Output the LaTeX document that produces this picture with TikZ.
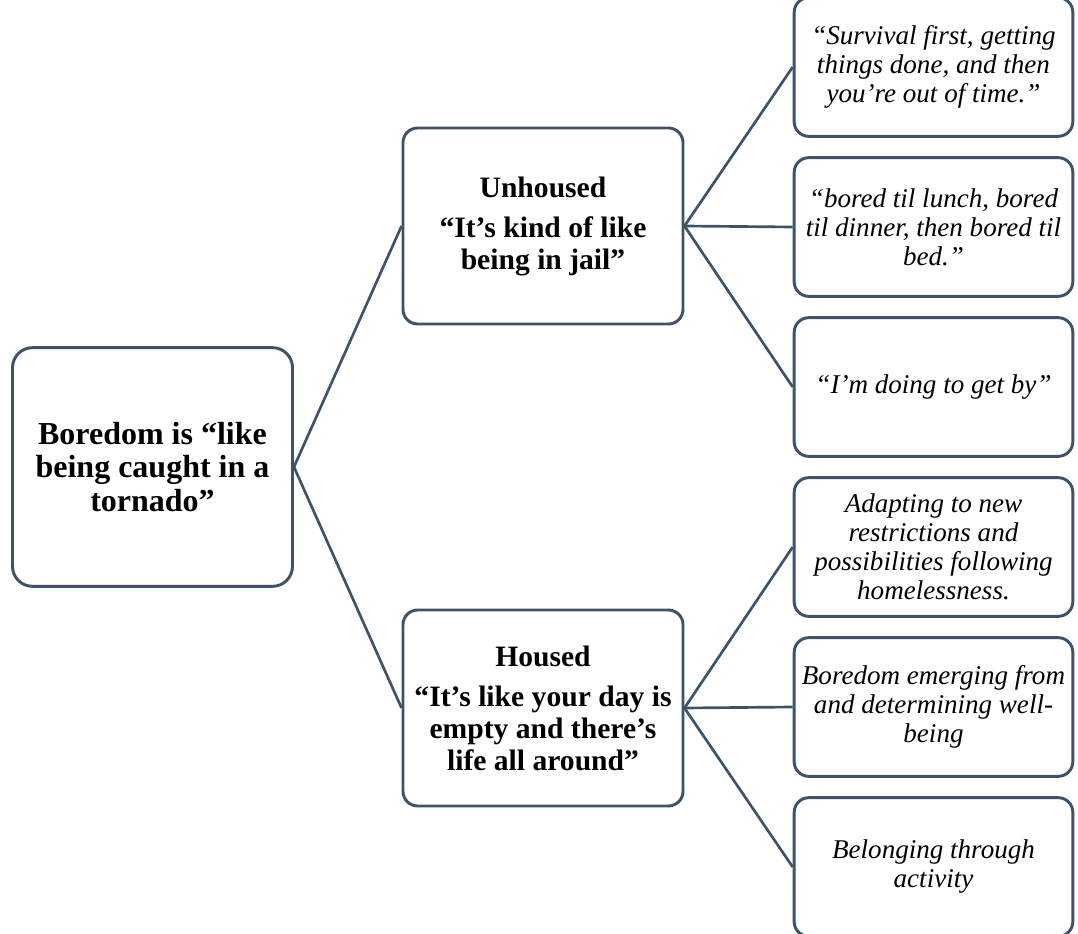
\documentclass[tikz,border=0pt]{standalone}
\usepackage{fontspec}
\setmainfont{Liberation Serif}
\usepackage{tikz}
\definecolor{slate_blue}{RGB}{62,82,104}

\begin{document}
\begin{tikzpicture}[x=0.75pt, y=-0.75pt,
    box/.style={draw=slate_blue, line width=2.2pt, rounded corners=11pt,
                align=center, inner sep=0pt, fill=white},
    link/.style={draw=slate_blue, line width=2pt}]
          \useasboundingbox (0,0) rectangle (1078,934);
          \clip (0,0) rectangle (1078,934);
          % root box
          \node[box, rounded corners=15pt, minimum width=210pt, minimum height=179pt,
                font=\fontsize{24}{25}\selectfont\bfseries] (root) at (152.5,467)
                {Boredom is “like\\being caught in a\\tornado”};
          % middle boxes
          \node[box, minimum width=210pt, minimum height=147pt,
                font=\fontsize{22.2}{24}\selectfont\bfseries] (unhoused) at (543,226)
                {Unhoused\\[6pt]“It’s kind of like\\being in jail”};
          \node[box, minimum width=210pt, minimum height=147pt,
                font=\fontsize{22.2}{24}\selectfont\bfseries] (housed) at (543,708)
                {Housed\\[6pt]“It’s like your day is\\empty and there’s\\life all around”};
          \draw[link] (root.east) -- (unhoused.west);
          \draw[link] (root.east) -- (housed.west);
          % right boxes
          \foreach \i/\lbl in {1/{“Survival first, getting\\things done, and then\\you’re out of time.”},
                               2/{“bored til lunch, bored\\til dinner, then bored til\\bed.”},
                               3/{“I’m doing to get by”},
                               4/{Adapting to new\\restrictions and\\possibilities following\\homelessness.},
                               5/{Boredom emerging from\\and determining well-\\being},
                               6/{Belonging through\\activity}}{
            \node[box, minimum width=209pt, minimum height=104pt,
                  font=\fontsize{20.3}{21.75}\selectfont\itshape] (q\i) at (933.5,{67+160*(\i-1)}) {\lbl};
          }
          \foreach \i in {1,2,3}{
            \draw[link] (unhoused.east) -- (q\i.west);
          }
          \foreach \i in {4,5,6}{
            \draw[link] (housed.east) -- (q\i.west);
          }
        \end{tikzpicture}
\end{document}
